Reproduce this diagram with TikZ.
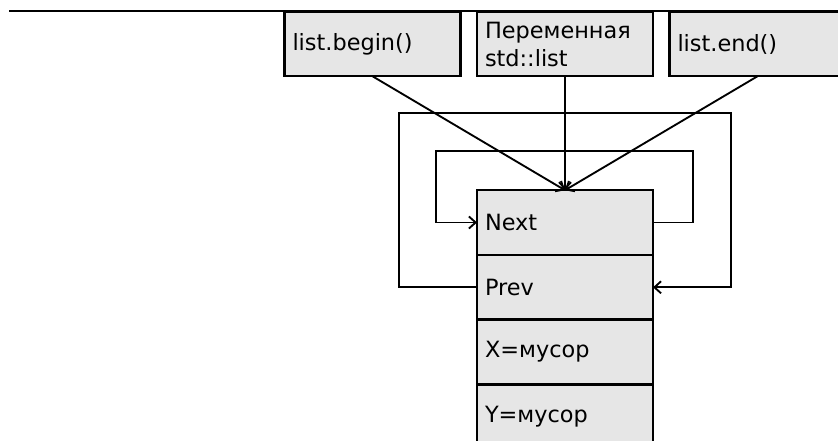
\documentclass[tikz,border=0pt]{standalone}
\usepackage{fontspec}
\setmainfont{DejaVu Sans}
\usetikzlibrary{arrows.meta, positioning}
\definecolor{cellfill}{HTML}{E6E6E6}
\definecolor{ink}{HTML}{000000}

\begin{document}
\begin{tikzpicture}[
    x=0.75pt, y=-0.75pt,
    every node/.style={font=\fontsize{16.8}{21}\selectfont},
    cell/.style={draw=ink, fill=cellfill, line width=1.6pt, inner sep=6pt, outer sep=0pt,
        text width=120pt, minimum height=48.4pt, align=left},
    link/.style={draw=ink, line width=1.4pt},
    ptr/.style={link, -{Straight Barb[length=5pt, width=9pt]}},
]
\useasboundingbox (0,0) rectangle (838,441);

% the rule along the top
\coordinate (ruleL) at (9,11);
\coordinate (ruleR) at (838,11);
\draw[link] (ruleL) -- (ruleR);

% names that point into the list
\node[cell] (begin) at (372.5,44) {list.begin()};
\node[cell] (var) at (565,44) {Переменная\\std::list};
\node[cell] (end) at (757.5,44) {list.end()};

% the head node and its fields
\node[cell] (next) at (565,222.5) {Next};
\node[cell] (prev) at (565,287.3) {Prev};
\node[cell] (xval) at (565,352) {X=мусор};
\node[cell] (yval) at (565,416.7) {Y=мусор};

\draw[ptr] (begin.south) -- (next.north);
\draw[ptr] (var.south) -- (next.north);
\draw[ptr] (end.south) -- (next.north);

% next and prev loop back to the same node
\draw[ptr] (next.east) -- ++(40,0) -- ++(0,-71.5) -- ++(-257,0) -- ++(0,71.5) -- (next.west);
\draw[ptr] (prev.west) -- ++(-78,0) -- ++(0,-174.5) -- ++(332,0) -- ++(0,174.5) -- (prev.east);
\end{tikzpicture}
\end{document}
